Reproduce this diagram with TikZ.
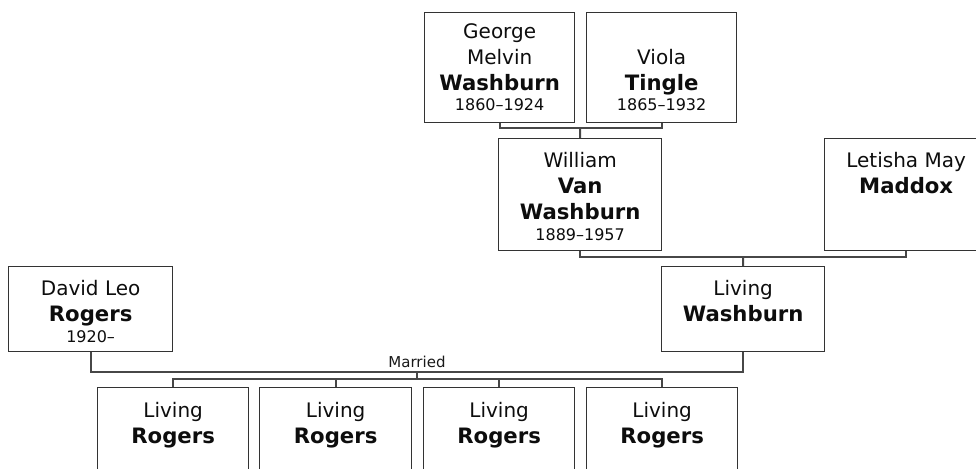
\documentclass[tikz,border=0pt]{standalone}
\usepackage{fontspec}
\setmainfont{DejaVu Sans}
\newcommand{\dt}{\fontsize{16}{20}\selectfont}
\newcommand{\fl}{\rule{0pt}{16pt}}
\newcommand{\sn}[1]{{\fontsize{21.2}{26}\selectfont\bfseries #1}}
\begin{document}
\begin{tikzpicture}[x=1pt,y=-1pt,
  person/.style={draw=black!80, line width=1.3pt, fill=white, anchor=north west, inner sep=0pt, minimum width=#1},
  person/.default=151pt,
  txt/.style={anchor=north, inner sep=0pt, align=center, font=\fontsize{20}{26}\selectfont, text=black!95},
  conn/.style={draw=black!72, line width=2pt},
  lbl/.style={inner sep=0pt, font=\fontsize{15}{17}\selectfont, text=black!90}]
\useasboundingbox (0,0) rectangle (976,468);
\clip (0,0) rectangle (976,468);
% boxes
\node[person=150pt, minimum height=110pt] (g) at (424,12) {};
\node[person=150pt, minimum height=110pt] (v) at (586,12) {};
\node[person=163pt, minimum height=112pt] (w) at (498,138) {};
\node[person=163pt, minimum height=112pt] (l) at (824,138) {};
\node[person=163pt, minimum height=85pt] (lw) at (661,266) {};
\node[person=164pt, minimum height=85pt] (d) at (8,266) {};
\node[person=151pt, minimum height=85pt] (c1) at (97,387) {};
\node[person=152pt, minimum height=85pt] (c2) at (259,387) {};
\node[person=151pt, minimum height=85pt] (c3) at (423,387) {};
\node[person=151pt, minimum height=85pt] (c4) at (586,387) {};
% texts
\node[txt] (gt) at ([yshift=-10pt]g.north) {\fl George\\Melvin\\\sn{Washburn}\\[-6pt]{\dt 1860–1924}};
\node[txt] (vt) at ([yshift=-10pt]v.north) {\fl\\Viola\\\sn{Tingle}\\[-6pt]{\dt 1865–1932}};
\node[txt] (wt) at ([yshift=-13pt]w.north) {\fl William\\\sn{Van}\\\sn{Washburn}\\[-5pt]{\dt 1889–1957}};
\node[txt] (lt) at ([yshift=-13pt]l.north) {\fl Letisha May\\\sn{Maddox}};
\node[txt] (lwt) at ([yshift=-13pt]lw.north) {\fl Living\\\sn{Washburn}};
\node[txt] (dtx) at ([yshift=-13pt]d.north) {\fl David Leo\\\sn{Rogers}\\[-5pt]{\dt 1920–}};
\node[txt] (c1t) at ([yshift=-14pt]c1.north) {\fl Living\\\sn{Rogers}};
\node[txt] (c2t) at ([yshift=-14pt]c2.north) {\fl Living\\\sn{Rogers}};
\node[txt] (c3t) at ([yshift=-14pt]c3.north) {\fl Living\\\sn{Rogers}};
\node[txt] (c4t) at ([yshift=-14pt]c4.north) {\fl Living\\\sn{Rogers}};
% connectors
\coordinate (j1) at (580,128);
\draw[conn] (g.south) |- (j1) -| (v.south);
\draw[conn] (j1) -- (w.north);
\coordinate (j2) at (743,257);
\draw[conn] (w.south) |- (j2) -| (l.south);
\draw[conn] (j2) -- (lw.north);
\coordinate (m) at (417,372);
\draw[conn] (d.south) |- (m) -| (lw.south);
\node[lbl, anchor=base] (ml) at (417,367) {Married};
\coordinate (cb) at (417,379);
\draw[conn] (m) -- (cb);
\draw[conn] (c1.north) |- (cb) -| (c4.north);
\draw[conn] (c2.north) -- (c2.north |- cb);
\draw[conn] (c3.north) -- (c3.north |- cb);
\end{tikzpicture}
\end{document}
